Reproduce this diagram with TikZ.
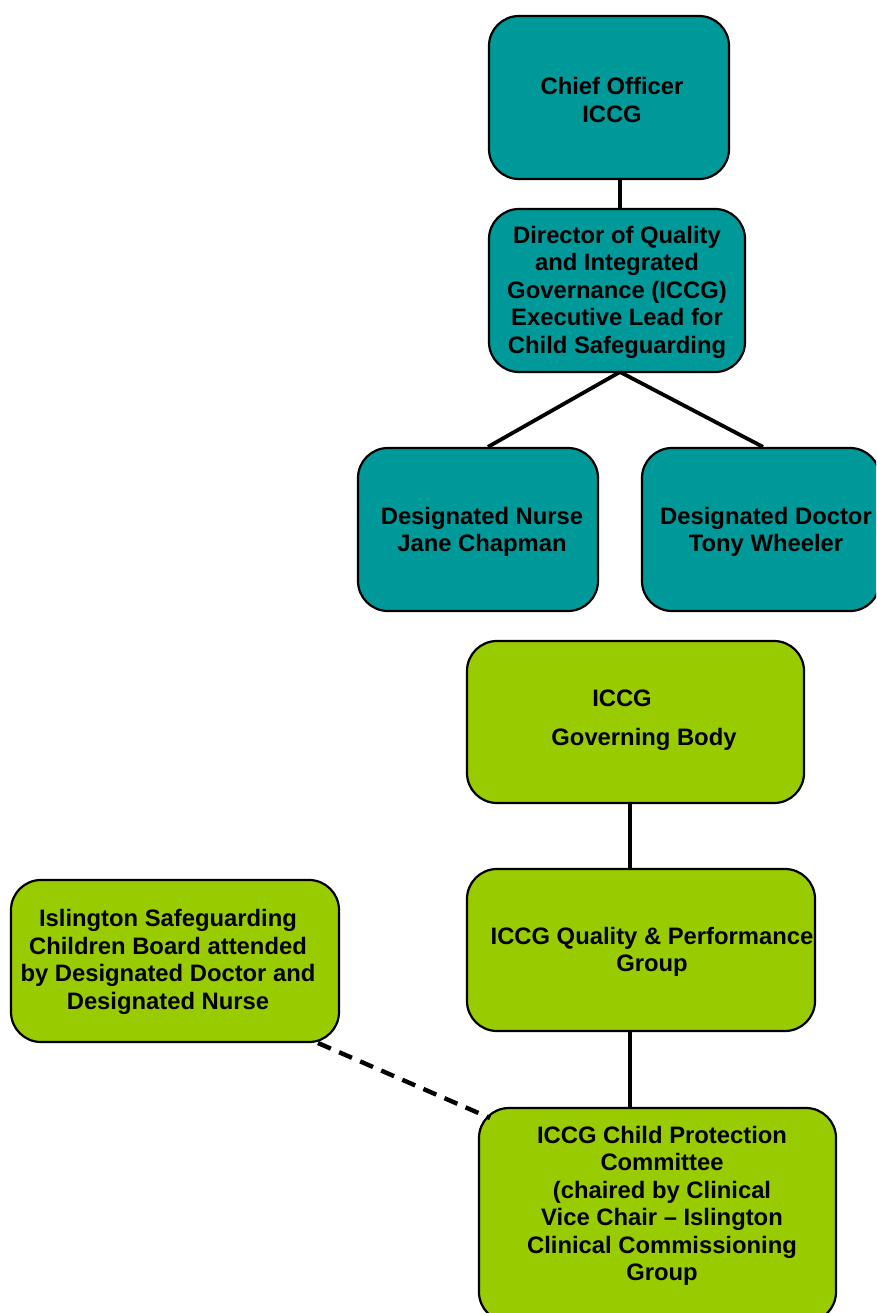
\documentclass[tikz,border=0pt]{standalone}
\usepackage{fontspec}
\setmainfont{Liberation Sans}
\definecolor{teal1}{HTML}{009999}
\definecolor{lime1}{HTML}{99CC00}
\begin{document}
\begin{tikzpicture}[x=1pt,y=-1pt,
  box/.style={draw=black,line width=2.2pt,rounded corners=30pt,inner sep=0pt},
  tealbox/.style={box,fill=teal1},
  greenbox/.style={box,fill=lime1},
  txt/.style={align=center,font=\fontsize{23.8}{27.5}\selectfont\bfseries,inner sep=0pt},
  link/.style={line width=3.8pt},
  dlink/.style={line width=4.4pt,dash pattern=on 14pt off 9pt}]
\useasboundingbox (0,0) rectangle (876,1313);
\clip (0,0) rectangle (876,1313);
% boxes
\node[tealbox,minimum width=240pt,minimum height=163pt] (chief) at (609,97.5) {};
\node[tealbox,minimum width=256pt,minimum height=163pt] (dir) at (617,290.5) {};
\node[tealbox,minimum width=240pt,minimum height=163pt] (nurse) at (478,529.5) {};
\node[tealbox,minimum width=238pt,minimum height=163pt] (doc) at (761,529.5) {};
\node[greenbox,minimum width=337pt,minimum height=162pt] (gov) at (635.5,722) {};
\node[greenbox,minimum width=348pt,minimum height=162pt] (qual) at (641,950) {};
\node[greenbox,minimum width=357pt,minimum height=214pt] (cp) at (657.5,1215) {};
\node[greenbox,minimum width=328pt,minimum height=162pt] (isl) at (175,961) {};
% texts
\node[txt] (t1) at (612,100) {Chief Officer\\ICCG};
\node[txt] (t2) at (617,292) {Director of Quality\\and Integrated\\Governance (ICCG)\\Executive Lead for\\Child Safeguarding};
\node[txt] (t3) at (482,532) {Designated Nurse\\Jane Chapman};
\node[txt] (t4) at (766,532) {Designated Doctor\\Tony Wheeler};
\node[txt] (t5a) at (622,698) {ICCG};
\node[txt] (t5b) at (644,739) {Governing Body};
\node[txt] (t6) at (652,952) {ICCG Quality \& Performance\\Group};
\node[txt] (t7) at (662,1206) {ICCG Child Protection\\Committee\\(chaired by Clinical\\Vice Chair -- Islington\\Clinical Commissioning\\Group};
\node[txt] (t8) at (168,962) {Islington Safeguarding\\Children Board attended\\by Designated Doctor and\\Designated Nurse};
% connectors
\coordinate (dirb) at (620,372);
\draw[link] (chief.south -| dirb) -- (dir.north -| dirb);
\draw[link] (dirb) -- (nurse.north -| 488,0);
\draw[link] (dirb) -- (doc.north -| 763,0);
\draw[link] (gov.south -| 630,0) -- (qual.north -| 630,0);
\draw[link] (qual.south -| 630,0) -- (cp.north -| 630,0);
\coordinate (da) at (318,1043);
\coordinate (db) at (490,1118);
\draw[dlink] (da) -- (db);
\end{tikzpicture}
\end{document}
